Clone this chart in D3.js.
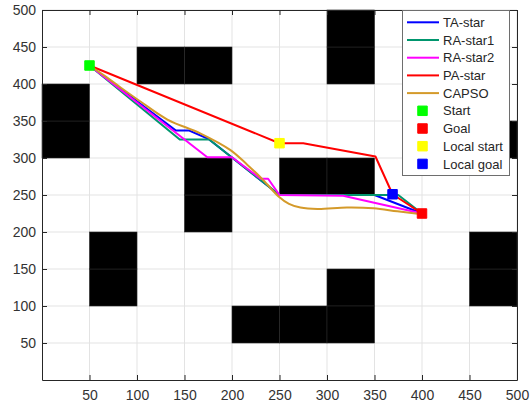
<!DOCTYPE html>
<html>
<head>
<meta charset="utf-8">
<script src="https://cdn.jsdelivr.net/npm/d3@7"></script>
<style>
	body { margin: 0; background: #fff; }
	text { font-family: "Liberation Sans", Arial, sans-serif; }
</style>
</head>
<body>
<div id="chart-area"></div>
<script>
var width = 530;
var height = 409;
var plot = {left: 42, right: 517, top: 10, bottom: 380};

// map data
var tickVals = [50, 100, 150, 200, 250, 300, 350, 400, 450, 500];
var cellSize = 50;
var obstacleCells = [[0,300],[0,350],[100,400],[150,400],[300,400],[300,450],[450,300],
	[150,200],[150,250],[250,250],[300,250],[50,100],[50,150],[450,100],[450,150],
	[300,100],[200,50],[250,50],[300,50]];

// paths
var taStar = [[50,425],[141,337],[155,337],[175,326],[250,250],[350,250],[400,225]];
var raStar1 = [[50,425],[145,325],[176,325],[250,250],[375,250],[400,225]];
var raStar2 = [[50,425],[174,301],[200,301],[230,272],[238,272],[250,250],[317,249],[400,225]];
var paStar = [[50,425],[250,320],[275,320],[351,302],[369,251],[400,225]];
var capso = [[50,425],[66,411],[82,396],[104,376],[132,352],[167,333],[198,311],[216,291],
	[233,270],[249,248],[260,238],[272,233],[290,231],[321,233],[349,232],[374,228],[400,224]];

// points
var startPt = [50, 425];
var goalPt = [400, 225];
var localStart = [250, 320];
var localGoal = [369, 251];

var series = [
	{name: "TA-star", data: taStar, color: "#0000ff"},
	{name: "RA-star1", data: raStar1, color: "#00966e"},
	{name: "RA-star2", data: raStar2, color: "#ff00ff"},
	{name: "PA-star", data: paStar, color: "#ff0000"},
	{name: "CAPSO", data: capso, color: "#d49a2a"}
];
var points = [
	{name: "Start", p: startPt, color: "#00ff00"},
	{name: "Goal", p: goalPt, color: "#ff0000"},
	{name: "Local start", p: localStart, color: "#ffff00"},
	{name: "Local goal", p: localGoal, color: "#0000ff"}
];

var svg = d3.select("#chart-area").append("svg")
	.attr("width", width)
	.attr("height", height);

var x = d3.scaleLinear().domain([0, 500]).range([plot.left, plot.right]);
var y = d3.scaleLinear().domain([0, 500]).range([plot.bottom, plot.top]);

// grid
var grid = svg.append("g").attr("class", "grid");
grid.selectAll(".gx").data(tickVals).enter().append("line")
	.attr("x1", d => x(d)).attr("x2", d => x(d))
	.attr("y1", plot.top).attr("y2", plot.bottom)
	.attr("stroke", "#e3e3e3").attr("stroke-width", 1);
grid.selectAll(".gy").data(tickVals).enter().append("line")
	.attr("y1", d => y(d)).attr("y2", d => y(d))
	.attr("x1", plot.left).attr("x2", plot.right)
	.attr("stroke", "#e3e3e3").attr("stroke-width", 1);

// obstacles
svg.append("g").selectAll("rect")
	.data(obstacleCells)
	.enter()
	.append("rect")
		.attr("x", d => x(d[0]))
		.attr("y", d => y(d[1] + cellSize))
		.attr("width", d => x(d[0] + cellSize) - x(d[0]))
		.attr("height", d => y(d[1]) - y(d[1] + cellSize))
		.attr("fill", "#000")
		.attr("stroke", "#2a2a2a")
		.attr("stroke-width", 0.6);

// paths
var line = d3.line().x(d => x(d[0])).y(d => y(d[1]));
var smooth = d3.line().x(d => x(d[0])).y(d => y(d[1])).curve(d3.curveCatmullRom.alpha(0.5));

svg.append("g").selectAll("path")
	.data(series)
	.enter()
	.append("path")
		.attr("d", d => d.name == "CAPSO" ? smooth(d.data) : line(d.data))
		.attr("fill", "none")
		.attr("stroke", d => d.color)
		.attr("stroke-width", 2)
		.attr("stroke-linejoin", "round");

// markers
var sq = d3.symbol().type(d3.symbolSquare).size(90);
svg.append("g").selectAll("path")
	.data(points)
	.enter()
	.append("path")
		.attr("d", sq)
		.attr("transform", d => "translate(" + x(d.p[0]) + "," + y(d.p[1]) + ")")
		.attr("fill", d => d.color)
		.attr("stroke", d => d.color)
		.attr("stroke-width", 1);

// axes
var axisColor = "#262626";
var bottomAxis = d3.axisBottom(x).tickValues(tickVals).tickSize(-5).tickSizeOuter(0).tickPadding(10);
var leftAxis = d3.axisLeft(y).tickValues(tickVals).tickSize(-5).tickSizeOuter(0).tickPadding(6);
var topAxis = d3.axisTop(x).tickValues(tickVals).tickSize(-5).tickSizeOuter(0).tickFormat("");
var rightAxis = d3.axisRight(y).tickValues(tickVals).tickSize(-5).tickSizeOuter(0).tickFormat("");

svg.append("g").attr("transform", "translate(0," + plot.bottom + ")").call(bottomAxis);
svg.append("g").attr("transform", "translate(" + plot.left + ",0)").call(leftAxis);
svg.append("g").attr("transform", "translate(0," + plot.top + ")").call(topAxis);
svg.append("g").attr("transform", "translate(" + plot.right + ",0)").call(rightAxis);

svg.selectAll(".domain, .tick line").attr("stroke", axisColor);
svg.selectAll(".tick text")
	.attr("fill", "#333")
	.attr("font-size", "14px")
	.attr("font-family", "'Liberation Sans', Arial, sans-serif");

// legend
var lg = svg.append("g").attr("class", "legend");
var rowH = 17.7;
var allItems = series.map(d => ({name: d.name, color: d.color, kind: "line"}))
	.concat(points.map(d => ({name: d.name, color: d.color, kind: "point"})));

lg.append("rect")
	.attr("x", 402.5)
	.attr("y", 10.5)
	.attr("width", 107)
	.attr("height", 165)
	.attr("fill", "#fff")
	.attr("stroke", "#6e6e6e")
	.attr("stroke-width", 1);

var rows = lg.selectAll(".row")
	.data(allItems)
	.enter()
	.append("g")
		.attr("transform", (d, i) => "translate(0," + (22.3 + i * rowH) + ")");

rows.filter(d => d.kind == "line").append("line")
	.attr("x1", 407).attr("x2", 439)
	.attr("y1", 0).attr("y2", 0)
	.attr("stroke", d => d.color)
	.attr("stroke-width", 2);

rows.filter(d => d.kind == "point").append("path")
	.attr("d", sq)
	.attr("transform", "translate(422.5,0)")
	.attr("fill", d => d.color)
	.attr("stroke", d => d.color);

rows.append("text")
	.attr("x", 443)
	.attr("y", 4.6)
	.attr("font-size", "13px")
	.style("fill", "#262626")
	.text(d => d.name);
</script>
</body>
</html>
